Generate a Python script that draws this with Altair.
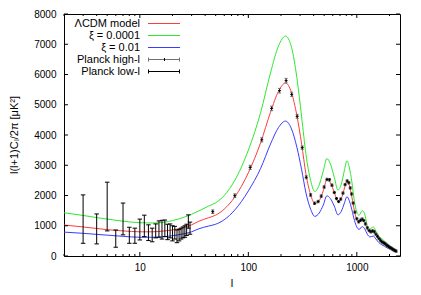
import altair as alt
import pandas as pd

# ---------------- data ----------------
l_model = [2, 3, 4, 5, 7, 10, 13, 17, 20, 25, 30, 35, 43, 50, 60, 75, 100, 130, 160, 190,
           220, 250, 280, 310, 340, 375, 410, 450, 490, 530, 570, 620, 670, 720, 770, 810,
           850, 900, 950, 1000, 1050, 1120, 1180, 1250, 1320, 1420, 1500, 1600, 1700, 1800,
           1900, 2000, 2100, 2250]
d_lcdm = [1025, 960, 910, 870, 830, 800, 800, 830, 860, 940, 1030, 1150, 1265, 1350, 1550, 1950,
          2750, 3750, 4750, 5450, 5720, 5400, 4650, 3700, 2700, 2030, 1740, 1830, 2150, 2520,
          2420, 2100, 1800, 1900, 2250, 2480, 2350, 1950, 1500, 1200, 1110, 1200, 1130, 900,
          780, 830, 710, 560, 460, 400, 330, 280, 230, 170]
d_xi_small = [1430, 1340, 1270, 1220, 1150, 1100, 1090, 1120, 1170, 1270, 1380, 1490, 1650, 1760,
              2000, 2500, 3500, 4750, 6050, 6950, 7270, 6900, 5900, 4600, 3350, 2500, 2130, 2350,
              2800, 3220, 3050, 2600, 2180, 2380, 2850, 3150, 2950, 2450, 1800, 1450, 1350, 1500,
              1400, 1000, 900, 960, 820, 650, 570, 490, 410, 340, 290, 210]
d_xi_large = [790, 750, 715, 690, 650, 620, 620, 640, 670, 730, 800, 900, 990, 1050, 1200, 1520,
              2150, 2900, 3700, 4250, 4460, 4200, 3600, 2850, 2080, 1550, 1310, 1420, 1680, 1990,
              1900, 1650, 1360, 1480, 1760, 1960, 1840, 1530, 1180, 960, 880, 970, 900, 720,
              630, 660, 560, 440, 370, 320, 270, 230, 190, 140]
model_names = ["ΛCDM model", "ξ = 0.0001", "ξ = 0.01"]
model_colors = ["#ff3b3b", "#2ee82e", "#3b3bff"]

# Planck high-l binned points
l_high = [47, 75, 104, 133, 164, 194, 223, 251, 282, 314, 342, 375, 408, 440, 470, 500, 531,
          560, 590, 620, 650, 680, 710, 745, 780, 815, 845, 870, 895, 925, 960, 1000, 1040,
          1080, 1120, 1160, 1200, 1250, 1300, 1350, 1400, 1450, 1500, 1550, 1600, 1650, 1700,
          1750, 1800, 1850, 1900, 1950, 2000, 2050, 2100, 2150, 2200, 2250, 2300]
d_high = [1465, 1994, 2930, 3840, 4880, 5466, 5797, 5344, 4618, 3581, 2602, 2017, 1742, 1800,
          1980, 2280, 2530, 2520, 2340, 2100, 1900, 1800, 1880, 2080, 2360, 2480, 2420, 2250,
          2050, 1750, 1450, 1230, 1130, 1180, 1220, 1170, 1060, 930, 840, 800, 830, 800, 720,
          650, 580, 520, 470, 440, 420, 390, 350, 320, 290, 270, 250, 220, 200, 180, 160]
e_high = [60, 60, 70, 70, 75, 75, 75, 70, 65, 55, 50, 45, 40, 40, 40, 40, 40, 40, 40, 35, 35,
          35, 35, 35, 35, 35, 35, 35, 35, 35, 35, 35, 35, 35, 35, 35, 35, 35, 35, 35, 35, 35,
          35, 35, 35, 35, 35, 35, 35, 35, 35, 35, 35, 35, 35, 35, 35, 35, 35]

# Planck low-l error bars
l_low = list(range(3, 30))
lo_low = [420, 400, 830, 290, 700, 420, 420, 530, 640, 510, 470, 600, 620, 560, 640, 540, 600,
          500, 560, 440, 500, 560, 600, 620, 680, 920, 720]
hi_low = [2020, 1390, 2440, 860, 1750, 950, 920, 1220, 1350, 1030, 920, 1060, 1160, 1180, 1190,
          1050, 1060, 1000, 980, 860, 880, 920, 960, 1000, 1050, 1360, 1120]

# axis ticks
x_major = [10, 100, 1000]
x_minor = [2, 3, 4, 5, 6, 7, 8, 9, 20, 30, 40, 50, 60, 70, 80, 90,
           200, 300, 400, 500, 600, 700, 800, 900, 2000]
y_major = [0, 1000, 2000, 3000, 4000, 5000, 6000, 7000, 8000]

# ---------------- chart ----------------
W, H = 336, 242
FONT = "Liberation Sans"

models = pd.DataFrame({
    "l": l_model * 3,
    "D": d_lcdm + d_xi_small + d_xi_large,
    "model": [model_names[0]] * len(l_model) + [model_names[1]] * len(l_model)
             + [model_names[2]] * len(l_model),
})
high = pd.DataFrame({"l": l_high, "v": d_high, "e": e_high})
low = pd.DataFrame({"l": l_low, "lo": lo_low, "hi": hi_low})

xscale = alt.Scale(type="log", domain=[2, 2500], nice=False)
yscale = alt.Scale(domain=[0, 8000], nice=False, zero=False)
cscale = alt.Scale(domain=model_names, range=model_colors)
xaxis = alt.Axis(values=x_major, format="d", title=None, labelPadding=6)
yaxis = alt.Axis(values=y_major, format="d", title=None, labelPadding=8)

def X(field="l"):
    return alt.X(f"{field}:Q", scale=xscale, axis=xaxis)

def Y(field):
    return alt.Y(f"{field}:Q", scale=yscale, axis=yaxis)

lines = alt.Chart(models).mark_line(strokeWidth=1, interpolate="monotone").encode(
    x=X(), y=Y("D"),
    color=alt.Color("model:N", scale=cscale, legend=None),
    detail="model:N",
)

GRAY = "#707070"
hbase = alt.Chart(high).transform_calculate(lo="datum.v - datum.e", hi="datum.v + datum.e")
h_bars = hbase.mark_rule(color=GRAY, strokeWidth=1).encode(x=X(), y=Y("lo"), y2="hi:Q")
h_cap_lo = hbase.mark_point(shape="M-1,0L1,0", size=9, filled=False, color=GRAY,
                            strokeWidth=1, opacity=1).encode(x=X(), y=Y("lo"))
h_cap_hi = hbase.mark_point(shape="M-1,0L1,0", size=9, filled=False, color=GRAY,
                            strokeWidth=1, opacity=1).encode(x=X(), y=Y("hi"))
h_pts = hbase.mark_point(shape="M-1,0L1,0M0,-1L0,1", size=9, filled=False, color="black",
                         strokeWidth=1, opacity=1).encode(x=X(), y=Y("v"))

lbase = alt.Chart(low)
l_bars = lbase.mark_rule(color="black", strokeWidth=1).encode(x=X(), y=Y("lo"), y2="hi:Q")
l_cap_lo = lbase.mark_point(shape="M-1,0L1,0", size=20, filled=False, color="black",
                            strokeWidth=1, opacity=1).encode(x=X(), y=Y("lo"))
l_cap_hi = lbase.mark_point(shape="M-1,0L1,0", size=20, filled=False, color="black",
                            strokeWidth=1, opacity=1).encode(x=X(), y=Y("hi"))

# inward ticks (gnuplot style), mirrored on top / right
xt_maj = pd.DataFrame({"l": x_major})
xt_min = pd.DataFrame({"l": x_minor})
yt = pd.DataFrame({"y": y_major})
tick_layers = []
for df, ln in ((xt_maj, 4), (xt_min, 2)):
    tick_layers.append(alt.Chart(df).mark_rule(color="black", strokeWidth=1).encode(
        x=X(), y=alt.value(H), y2=alt.value(H - ln)))
    tick_layers.append(alt.Chart(df).mark_rule(color="black", strokeWidth=1).encode(
        x=X(), y=alt.value(0), y2=alt.value(ln)))
tick_layers.append(alt.Chart(yt).mark_rule(color="black", strokeWidth=1).encode(
    y=Y("y"), x=alt.value(0), x2=alt.value(4)))
tick_layers.append(alt.Chart(yt).mark_rule(color="black", strokeWidth=1).encode(
    y=Y("y"), x=alt.value(W), x2=alt.value(W - 4)))

one = pd.DataFrame({"k": [0]})
titles = [
    alt.Chart(one).mark_text(text="l(l+1)Cₗ/2π [μK²]", angle=270, font=FONT, fontSize=11,
                             color="black", align="center", baseline="middle").encode(
        x=alt.value(-49), y=alt.value(121)),
    alt.Chart(one).mark_text(text="l", font=FONT, fontSize=11, color="black",
                             align="center", baseline="middle").encode(
        x=alt.value(168), y=alt.value(270)),
]

# legend (top-left, labels right-aligned, samples to the right)
leg_labels = model_names + ["Planck high-l", "Planck low-l"]
legend_layers = []
for i, lab in enumerate(leg_labels):
    yy = 9.5 + 12 * i
    legend_layers.append(alt.Chart(one).mark_text(
        text=lab, font=FONT, fontSize=11, color="black", align="right",
        baseline="middle").encode(x=alt.value(76), y=alt.value(yy)))
    if i < 3:
        legend_layers.append(
            alt.Chart(pd.DataFrame({"model": [lab]})).mark_rule(strokeWidth=1).encode(
                color=alt.Color("model:N", scale=cscale, legend=None),
                x=alt.value(84), x2=alt.value(116), y=alt.value(yy)))
    else:
        col = GRAY if i == 3 else "black"
        legend_layers.append(alt.Chart(one).mark_rule(color=col, strokeWidth=1).encode(
            x=alt.value(84), x2=alt.value(116), y=alt.value(yy)))
        for xx in (84.5, 115.5):
            legend_layers.append(alt.Chart(one).mark_rule(color=col, strokeWidth=1).encode(
                x=alt.value(xx), y=alt.value(yy - 2), y2=alt.value(yy + 2)))
    if i == 3:
        legend_layers.append(alt.Chart(one).mark_rule(color="black", strokeWidth=1).encode(
            x=alt.value(100.5), y=alt.value(yy - 1.5), y2=alt.value(yy + 1.5)))

chart = alt.layer(
    lines, h_bars, h_cap_lo, h_cap_hi, h_pts, l_bars, l_cap_lo, l_cap_hi,
    *tick_layers, *titles, *legend_layers
).properties(
    width=W, height=H,
    autosize=alt.AutoSizeParams(type="none"),
    padding={"left": 56, "top": 6, "right": 13, "bottom": 36},
).configure_view(
    stroke="black", strokeWidth=1
).configure_axis(
    labelFont=FONT, labelFontSize=10, labelColor="black", ticks=False, domain=False,
    grid=False,
)

chart.save("out.html", embed_options={"renderer": "svg", "actions": False})
